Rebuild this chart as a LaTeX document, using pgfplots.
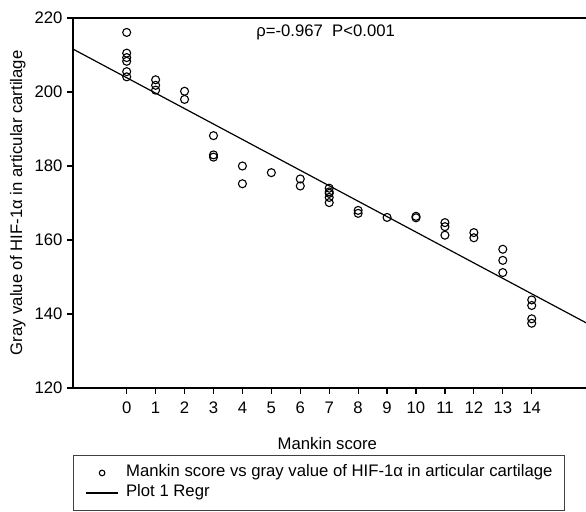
\documentclass[border=0pt]{standalone}
\usepackage{fontspec}
\setmainfont{Liberation Sans}
\usepackage{pgfplots}
\pgfplotsset{compat=1.18}
\newcommand\fs{\fontsize{16.7bp}{20bp}\selectfont}
\pgfplotsset{
  marklegend/.style={legend image code/.code={\path[draw=none,fill=none] (0bp,0bp) -- (40bp,0bp);
    \draw[##1, mark size=2.8bp] plot coordinates {(16bp,0bp)};}},
  linelegend/.style={legend image code/.code={\path[draw=none,fill=none] (0bp,0bp) -- (40bp,0bp);
    \draw[##1] (0bp,0bp) -- (32bp,0bp);}},
}
\begin{document}
\begin{tikzpicture}[font=\fs]
\useasboundingbox (0,0) rectangle (586bp,512bp);
\begin{axis}[
  at={(73bp,124bp)}, anchor=south west,
  scale only axis, width=516bp, height=370bp,
  xmin=-1.856, xmax=15.98, ymin=120, ymax=220,
  axis line style={line width=1.3bp, black},
  xtick={0,...,14}, ytick={120,140,...,220},
  xtick pos=bottom, ytick pos=left,
  tick align=outside, major tick length=6bp,
  every tick/.style={line width=1.2bp, black},
  /pgf/number format/assume math mode=true,
  tick label style={font=\fs},
  xticklabel style={yshift=-4.5bp},
  yticklabel style={xshift=-1bp},
  xlabel={Mankin score},
  ylabel={Gray value of HIF-1α in articular cartilage},
  label style={font=\fs},
  xlabel style={at={(axis description cs:0.493,-0.166)}, anchor=base},
  ylabel style={at={(axis description cs:-0.107,0.5)}, anchor=center},
  legend cell align=left,
  legend style={at={(axis description cs:0,-0.181)}, anchor=north west,
    draw=black!75, line width=1bp, font=\fs,
    inner xsep=12bp, inner ysep=9.5bp, row sep=4bp,
    nodes={inner sep=0bp, text height=12bp, text depth=4bp}},
]
\addplot[only marks, mark=o, mark size=4bp, mark options={line width=1.1bp, black}, marklegend]
coordinates {
(0,216.1) (0,210.5) (0,209.3) (0,208.3) (0,205.5) (0,204.1)
(1,203.3) (1,201.8) (1,200.5)
(2,200.2) (2,198.0)
(3,188.2) (3,183.0) (3,182.4)
(4,180.0) (4,175.2)
(5,178.2)
(6,176.5) (6,174.6)
(7,174.0) (7,173.0) (7,172.6) (7,171.5) (7,170.1)
(8,168.0) (8,167.2)
(9,166.1)
(10,166.4) (10,166.0)
(11,164.7) (11,163.6) (11,161.3)
(12,162.0) (12,160.6)
(13,157.5) (13,154.5) (13,151.2)
(14,143.8) (14,142.3) (14,138.7) (14,137.5)
};
\addlegendentry{Mankin score vs gray value of HIF-1α in articular cartilage}
\addplot[black, line width=1.2bp, linelegend]
coordinates {(-1.856,211.6) (15.98,137.2)};
\addlegendentry{Plot 1 Regr}
\node[anchor=base west, font=\fs] at (axis cs:4.36,214.9) {ρ=-0.967\ \ P<0.001};
\end{axis}
\end{tikzpicture}
\end{document}
